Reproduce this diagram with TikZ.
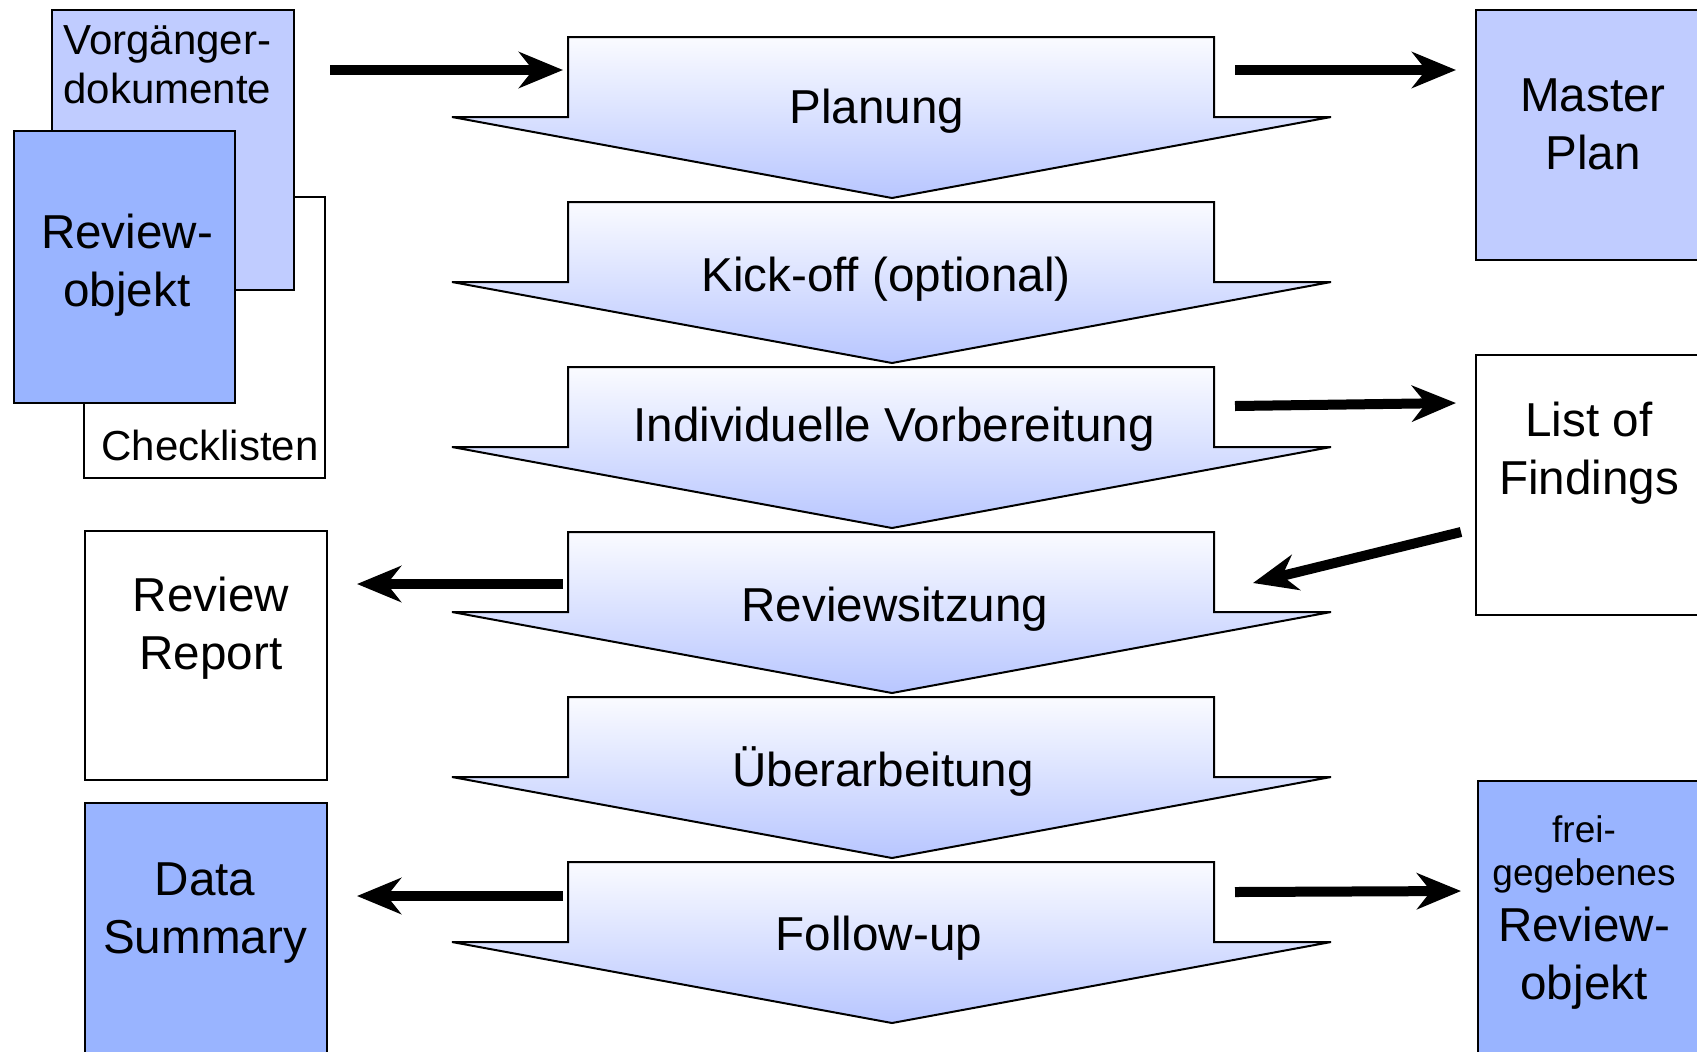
\documentclass[tikz,border=0pt]{standalone}
\usepackage{fontspec}
\setmainfont{Liberation Sans}
\usetikzlibrary{arrows.meta}
\definecolor{pale}{HTML}{C0CCFF}
\definecolor{mid}{HTML}{99B4FF}
\definecolor{shadetop}{HTML}{FAFBFF}
\definecolor{shadebot}{HTML}{B8C6FF}
\tikzset{
 docbox/.style={draw=black, line width=1.4pt},
 phase/.style={draw=black, line width=1pt, top color=shadetop, bottom color=shadebot},
 flow/.style={line width=5pt, -{Stealth[length=22pt,width=18pt,inset=7pt]}},
 big/.style={font=\fontsize{23.8}{29}\selectfont, align=center, inner sep=0pt},
 med/.style={font=\fontsize{21}{24.5}\selectfont, align=left, inner sep=0pt},
 small/.style={font=\fontsize{18.5}{21.5}\selectfont, align=center, inner sep=0pt},
}
\begin{document}
\begin{tikzpicture}[x=0.5pt,y=-0.5pt]
\clip (0,0) rectangle (1697,1051);
\fill[white] (0,0) rectangle (1697,1051);

% phase arrows
\foreach \t in {37,202,367,532,697,862} {
  \draw[phase] (568,\t) -- (1214,\t) -- (1214,\t+80) -- (1331,\t+80) -- (892,\t+161) -- (452,\t+80) -- (568,\t+80) -- cycle;
}
\node[big] (planung) at (877,111) {Planung};
\node[big] (kickoff) at (886,279) {Kick-off (optional)};
\node[big] (vorb) at (894,429) {Individuelle Vorbereitung};
\node[big] (sitzung) at (895,609) {Reviewsitzung};
\node[big] (ueber) at (883,772) {Überarbeitung};
\node[big] (follow) at (879,938) {Follow-up};

% left document stack
\draw[docbox, fill=white] (84,197) rectangle (325,478);
\draw[docbox, fill=pale] (52,10) rectangle (294,290);
\draw[docbox, fill=mid] (14,131) rectangle (235,403);
\node[med, anchor=west] (vorg) at (63,65) {Vorgänger-\\dokumente};
\node[big] (revobj) at (127,265) {Review-\\objekt};
\node[med, anchor=west] (check) at (101,445) {Checklisten};

% right boxes
\draw[docbox, fill=pale] (1476,10) rectangle (1720,260);
\node[big] (master) at (1593,124) {Master\\Plan};
\draw[docbox, fill=white] (1476,355) rectangle (1720,615);
\node[big] (findings) at (1589,453) {List of\\Findings};
\draw[docbox, fill=mid] (1478,781) rectangle (1720,1070);
\node[small] (frei) at (1584,854) {frei-\\gegebenes};
\node[big] (freiobj) at (1584,958) {Review-\\objekt};

% left lower boxes
\draw[docbox, fill=white] (85,531) rectangle (327,780);
\node[big] (report) at (211,628) {Review\\Report};
\draw[docbox, fill=mid] (85,803) rectangle (327,1070);
\node[big] (summary) at (205,913) {Data\\Summary};

% connector end points
\coordinate (c1s) at (330,70);   \coordinate (c1e) at (563,70);
\coordinate (c2s) at (1235,70);  \coordinate (c2e) at (1456,70);
\coordinate (c3s) at (1235,406); \coordinate (c3e) at (1456,403);
\coordinate (c4s) at (1461,532); \coordinate (c4e) at (1253,583);
\coordinate (c5s) at (563,584);  \coordinate (c5e) at (357,584);
\coordinate (c6s) at (563,896);  \coordinate (c6e) at (357,896);
\coordinate (c7s) at (1235,892); \coordinate (c7e) at (1461,891);

\draw[flow] (c1s) -- (c1e);
\draw[flow] (c2s) -- (c2e);
\draw[flow] (c3s) -- (c3e);
\draw[flow] (c4s) -- (c4e);
\draw[flow] (c5s) -- (c5e);
\draw[flow] (c6s) -- (c6e);
\draw[flow] (c7s) -- (c7e);
\end{tikzpicture}
\end{document}
